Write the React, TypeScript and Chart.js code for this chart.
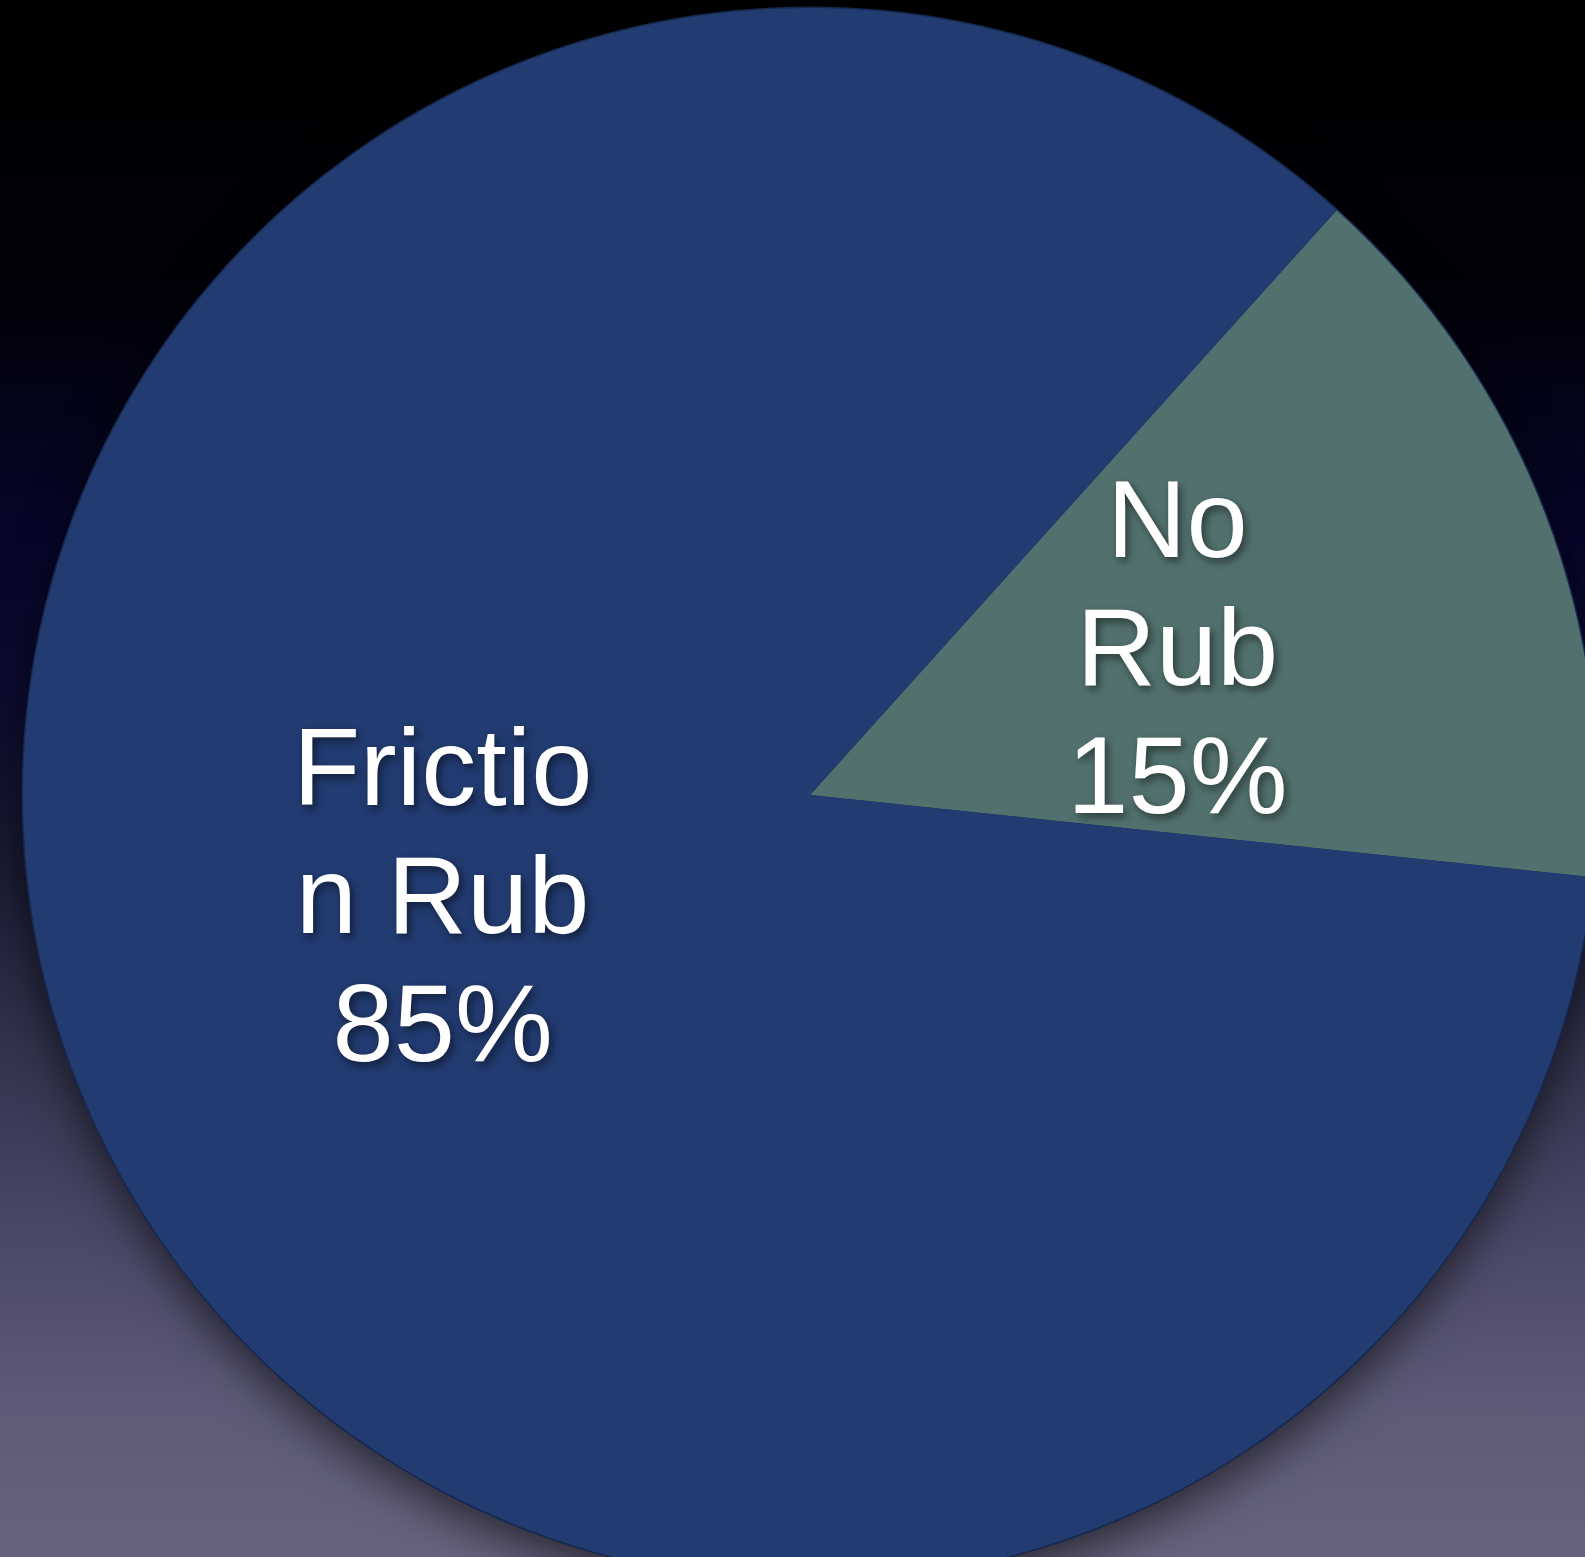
import React, { useEffect, useRef } from "react";
import { Chart, registerables } from "chart.js";

Chart.register(...registerables);

// ---- data ----
const categories = ["No Rub", "Friction Rub"];
const values = [15, 85];
const labelLines = [
  ["No", "Rub"],
  ["Frictio", "n Rub"],
];
const sliceColors = ["#52716e", "#223b71"];

const W = 1585;
const H = 1557;
const CANVAS = 1620;
const labelLift = [-8, -42];

const pieShadowPlugin = {
  id: "pieShadow",
  beforeDatasetsDraw(chart: any) {
    const meta = chart.getDatasetMeta(0);
    const arc = meta.data[0];
    if (!arc) return;
    const { x, y, outerRadius } = arc.getProps(["x", "y", "outerRadius"], true);
    const ctx = chart.ctx;
    ctx.save();
    ctx.shadowColor = "rgba(0,0,0,0.6)";
    ctx.shadowBlur = 45;
    ctx.shadowOffsetX = 0;
    ctx.shadowOffsetY = 14;
    ctx.fillStyle = "#16284e";
    ctx.beginPath();
    ctx.arc(x, y, outerRadius + 1.5, 0, Math.PI * 2);
    ctx.fill();
    ctx.restore();
  },
};

const sliceLabelPlugin = {
  id: "sliceLabels",
  afterDatasetsDraw(chart: any) {
    const meta = chart.getDatasetMeta(0);
    const ctx = chart.ctx;
    const fontSize = 110;
    const lineH = 128;
    const capH = fontSize * 0.716;
    meta.data.forEach((arc: any, i: number) => {
      const { x, y, startAngle, endAngle, outerRadius } = arc.getProps(
        ["x", "y", "startAngle", "endAngle", "outerRadius"],
        true
      );
      const mid = (startAngle + endAngle) / 2;
      const cx = x + Math.cos(mid) * outerRadius * 0.5;
      const cy = y + Math.sin(mid) * outerRadius * 0.5 + labelLift[i];
      const lines = [...labelLines[i], `${values[i]}%`];
      const blockH = capH + (lines.length - 1) * lineH;
      const firstBase = cy - blockH / 2 + capH;
      ctx.save();
      ctx.font = `${fontSize}px "Liberation Sans", Arial, Helvetica, sans-serif`;
      ctx.textAlign = "center";
      ctx.textBaseline = "alphabetic";
      ctx.fillStyle = "#ffffff";
      ctx.shadowColor = "rgba(0,0,0,0.5)";
      ctx.shadowBlur = 9;
      ctx.shadowOffsetX = 3;
      ctx.shadowOffsetY = 4;
      lines.forEach((t, k) => {
        ctx.fillText(t, cx, firstBase + k * lineH);
      });
      ctx.restore();
    });
  },
};

export default function App() {
  const ref = useRef<HTMLCanvasElement | null>(null);

  useEffect(() => {
    if (!ref.current) return;
    const chart = new Chart(ref.current, {
      type: "pie",
      data: {
        labels: categories,
        datasets: [
          {
            data: values,
            backgroundColor: sliceColors,
            borderWidth: 0,
          },
        ],
      },
      options: {
        responsive: false,
        animation: false,
        devicePixelRatio: 1,
        events: [],
        rotation: 42,
        layout: { padding: 23 },
        plugins: {
          legend: { display: false },
          tooltip: { enabled: false },
        },
      },
      plugins: [pieShadowPlugin, sliceLabelPlugin],
    });
    return () => chart.destroy();
  }, []);

  return (
    <div
      style={{
        position: "fixed",
        left: 0,
        top: 0,
        width: W,
        height: H,
        overflow: "hidden",
        background:
          "linear-gradient(to bottom, #000000 0%, #010108 18%, #06062a 35%, #0c0c30 45%, #1a1a34 55%, #34344f 68%, #4b4968 80%, #5c5a76 90%, #66637d 100%)",
      }}
    >
      <canvas
        ref={ref}
        width={CANVAS}
        height={CANVAS}
        style={{ position: "absolute", left: 0, top: -15, width: CANVAS, height: CANVAS }}
      />
    </div>
  );
}
